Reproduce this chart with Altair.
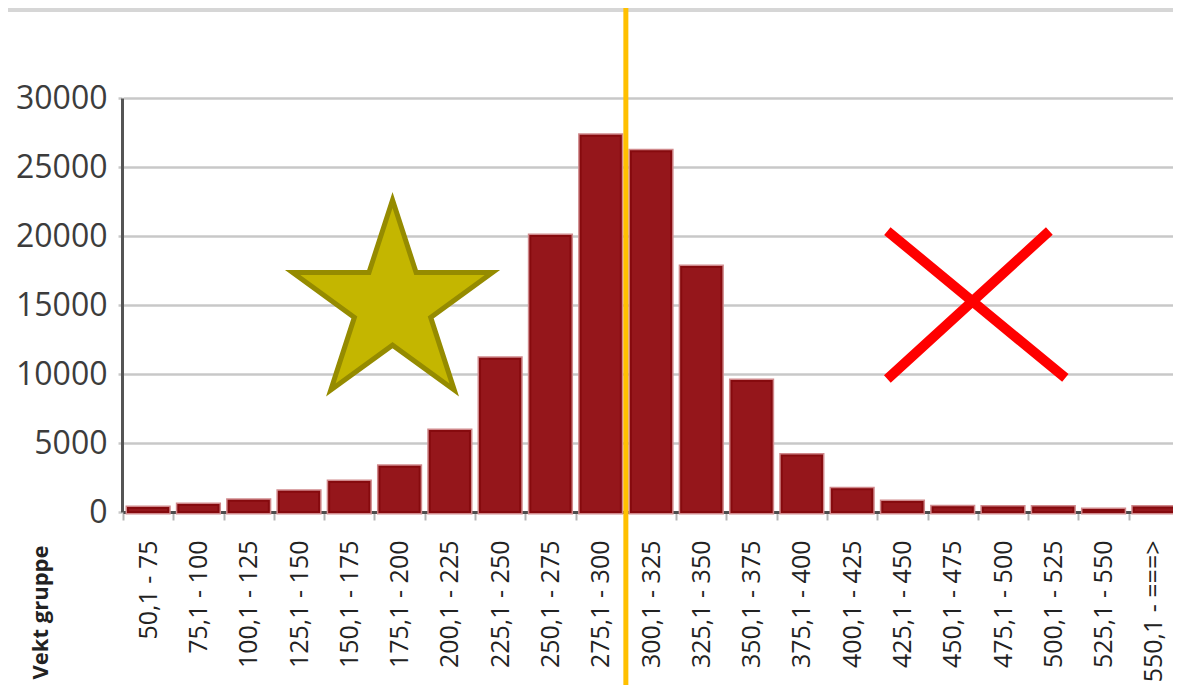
import altair as alt
import pandas as pd

# ---- data ----
categories = ["50,1 - 75", "75,1 - 100", "100,1 - 125", "125,1 - 150", "150,1 - 175",
              "175,1 - 200", "200,1 - 225", "225,1 - 250", "250,1 - 275", "275,1 - 300",
              "300,1 - 325", "325,1 - 350", "350,1 - 375", "375,1 - 400", "400,1 - 425",
              "425,1 - 450", "450,1 - 475", "475,1 - 500", "500,1 - 525", "525,1 - 550",
              "550,1 - ===>"]
counts = [290, 510, 820, 1470, 2170, 3270, 5870, 11100, 20000, 27270, 26150, 17750,
          9500, 4100, 1650, 720, 340, 330, 330, 140, 330]
y_ticks = [0, 5000, 10000, 15000, 20000, 25000, 30000]
marker_category = ["300,1 - 325"]
star_category = ["175,1 - 200"]
star_value = [15000]
cross_category = ["450,1 - 475"]
cross_value = [15000]
x_title = "Vekt gruppe"

STAR_PATH = ("M0,-1L0.2245,-0.309L0.9511,-0.309L0.3633,0.118L0.5878,0.809L0,0.382"
             "L-0.5878,0.809L-0.3633,0.118L-0.9511,-0.309L-0.2245,-0.309Z")
CROSS_PATH = "M-1,-0.831L1,0.82M0.82,-0.831L-1,0.831"

W, H = 1051, 414

df = pd.DataFrame({"gruppe": categories, "antall": counts})

x_scale = alt.Scale(domain=categories, paddingInner=0, paddingOuter=0, range=[1, 1057])
y_scale = alt.Scale(domain=[0, 30000], nice=False)

x_axis = alt.Axis(title=x_title, labelAngle=270, labelAlign="right", labelBaseline="middle",
                  labelFont="Open Sans", labelFontSize=25, labelColor="#222222",
                  labelPadding=20, labelOverlap=False, labelLimit=300,
                  tickBand="extent", tickSize=8, tickColor="#b4b4b4", tickWidth=2,
                  domainColor="#4d4d4d", domainWidth=3, grid=False,
                  titleAngle=270, titleAlign="right", titleBaseline="alphabetic",
                  titleX=-75, titleY=33, titleFont="Open Sans", titleFontSize=22,
                  titleFontWeight="bold", titleColor="#222222")
y_axis = alt.Axis(title=None, values=y_ticks, format="d", labelFont="Open Sans",
                  labelFontSize=32, labelColor="#3c3c3c", labelPadding=11,
                  tickSize=4, tickColor="#c8c8c8", tickWidth=2.5,
                  domainColor="#555555", domainWidth=3,
                  gridColor="#c8c8c8", gridWidth=2.5)


def xenc(**kw):
    return alt.X("gruppe:N", scale=x_scale, axis=x_axis, **kw)


def yenc():
    return alt.Y("antall:Q", scale=y_scale, axis=y_axis)


strip = alt.Chart(pd.DataFrame({"k": [0]})).mark_rect(color="#d6d6d6").encode(
    x=alt.value(-114), x2=alt.value(W + 10), y=alt.value(-90), y2=alt.value(-86))

halo = alt.Chart(df).mark_bar(width=alt.RelativeBandSize(0.8), fill="#95161b",
                              stroke="#d0898c", strokeWidth=5).encode(x=xenc(), y=yenc())
bars = alt.Chart(df).mark_bar(width=alt.RelativeBandSize(0.8), fill="#95161b",
                              stroke="#860a0e", strokeWidth=2).encode(x=xenc(), y=yenc())

rule = alt.Chart(pd.DataFrame({"gruppe": marker_category})).mark_rule(
    color="#FFC000", strokeWidth=5).encode(
    x=xenc(bandPosition=0), y=alt.value(-95), y2=alt.value(H + 200))

star = alt.Chart(pd.DataFrame({"gruppe": star_category, "antall": star_value})).mark_point(
    shape=STAR_PATH, size=44100, filled=True, fill="#C4B600", stroke="#958B00",
    strokeWidth=5, opacity=1, strokeJoin="miter").encode(
    x=xenc(bandPosition=0.36), y=yenc())

cross = alt.Chart(pd.DataFrame({"gruppe": cross_category, "antall": cross_value})).mark_point(
    shape=CROSS_PATH, size=31684, filled=False, stroke="#FF0000", strokeWidth=10,
    opacity=1, strokeCap="butt").encode(
    x=xenc(bandPosition=0.97), y=yenc())

chart = alt.layer(strip, halo, bars, rule, star, cross).properties(
    width=W, height=H,
    autosize=alt.AutoSizeParams(type="none"),
    padding={"left": 114, "top": 90, "right": 0, "bottom": 173},
    background="white",
).configure_view(strokeWidth=0)

chart.save("out.html", embed_options={"renderer": "svg", "actions": False})
